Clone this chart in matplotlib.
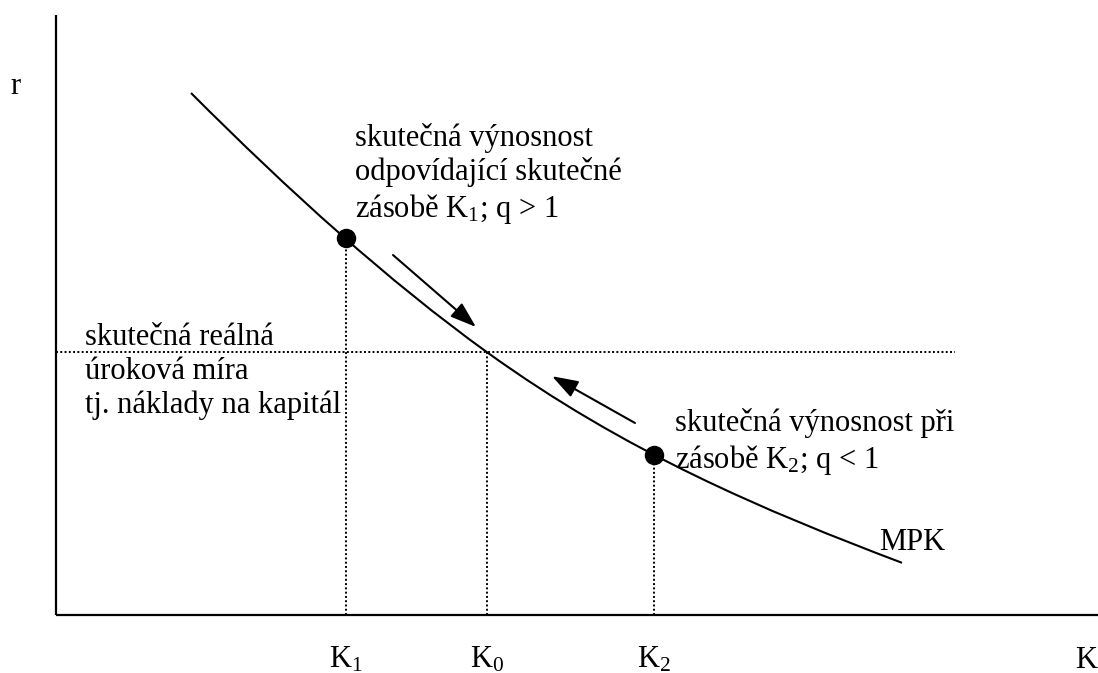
import matplotlib.pyplot as plt
from matplotlib.patches import FancyArrowPatch, PathPatch
from matplotlib.path import Path

plt.rcParams['font.family'] = ['Liberation Serif', 'DejaVu Serif']
plt.rcParams['mathtext.fontset'] = 'custom'
plt.rcParams['mathtext.rm'] = 'Liberation Serif'
plt.rcParams['mathtext.it'] = 'Liberation Serif:italic'

# MPK curve as two cubic Bezier pieces: start, ctrl, ctrl, K0, ctrl, ctrl, end
mpk_k = [1.35, 2.34, 3.32, 4.31, 5.69, 7.08, 8.46]
mpk_r = [8.70, 7.05, 5.57, 4.38, 2.72, 1.74, 0.87]

# capital stocks and their returns
k_levels = [2.90, 4.31, 5.98]
r_levels = [6.28, 4.38, 2.67]
k_labels = ['K$_1$', 'K$_0$', 'K$_2$']

# real interest rate line
rate_r = 4.38
rate_end = 8.99

# adjustment arrows: (tail, head)
arrows = [((3.37, 6.00), (4.20, 4.80)),
          ((5.79, 3.20), (4.96, 3.98))]

x_max, y_max = 10.42, 10.0
fs = 22

fig = plt.figure(figsize=(10.98, 6.73), dpi=100)
ax = fig.add_axes([0, 0, 1, 1])
ax.set_xlim(-0.56, 10.42)
ax.set_ylim(-58 / 60, 615 / 60)
ax.axis('off')

# axes
ax.plot([0, 0], [0, y_max], color='black', lw=1.6, solid_capstyle='butt')
ax.plot([0, x_max], [0, 0], color='black', lw=1.6, solid_capstyle='butt')

# dotted guides
dots = dict(color='black', lw=1.4, linestyle=(0, (1, 1.2)))
ax.plot([0, rate_end], [rate_r, rate_r], **dots)
for k, r in zip(k_levels, r_levels):
    ax.plot([k, k], [0, r], **dots)

# MPK
codes = [Path.MOVETO] + [Path.CURVE4] * 6
mpk_path = Path(list(zip(mpk_k, mpk_r)), codes)
ax.add_patch(PathPatch(mpk_path, facecolor='none', edgecolor='black', lw=1.5))

# K1 and K2 points
ax.plot([k_levels[0], k_levels[2]], [r_levels[0], r_levels[2]], 'o',
        color='black', markersize=13)

for tail, head in arrows:
    ax.add_patch(FancyArrowPatch(tail, head,
                                 arrowstyle='-|>,head_length=0.5,head_width=0.17',
                                 mutation_scale=32, color='black', lw=1.5,
                                 shrinkA=0, shrinkB=0))

# labels (anchored on the baseline of the last line)
ax.text(2.99, 6.63, 'skutečná výnosnost\nodpovídající skutečné\nzásobě K$_1$; q > 1',
        fontsize=fs, va='baseline', ha='left')
ax.text(0.29, 3.37, 'skutečná reálná\núroková míra\ntj. náklady na kapitál',
        fontsize=fs, va='baseline', ha='left')
ax.text(6.19, 2.45, 'skutečná výnosnost při\nzásobě K$_2$; q < 1',
        fontsize=fs, va='baseline', ha='left')
ax.text(8.23, 1.08, 'MPK', fontsize=fs, va='baseline', ha='left')
ax.text(-0.46, 8.68, 'r', fontsize=fs, va='baseline', ha='left')

for k, lab in zip(k_levels, k_labels):
    ax.text(k, -0.88, lab, fontsize=fs, va='baseline', ha='center')
ax.text(10.19, -0.88, 'K', fontsize=fs, va='baseline', ha='left')

fig.savefig('out.png', dpi=100)
